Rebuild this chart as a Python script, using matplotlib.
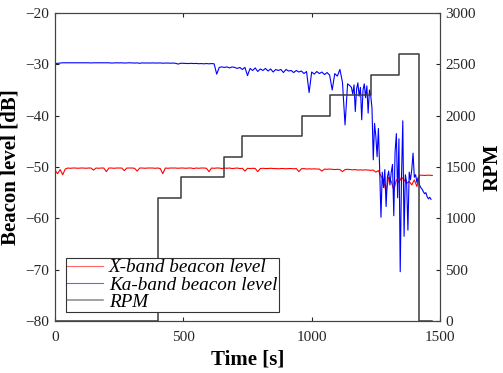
import numpy as np
import matplotlib
matplotlib.use('Agg')
import matplotlib.pyplot as plt

plt.rcParams['font.family'] = ['Liberation Serif', 'DejaVu Serif']

# ------------------------------------------------------------
# data
# ------------------------------------------------------------
# X-band beacon level, sampled every 10 s from 0 to 1470 s
red_time = np.arange(0, 1471, 10)
red_level = [
    -50.6, -51.3, -50.5, -51.5, -50.4, -50.2, -50.25, -50.2, -50.2, -50.25,
    -50.2, -50.2, -50.25, -50.2, -50.2, -50.6, -50.2, -50.25, -50.2, -50.2,
    -50.9, -50.2, -50.2, -50.25, -50.2, -50.2, -50.2, -50.7, -50.2, -50.2,
    -50.2, -50.25, -50.8, -50.2, -50.2, -50.25, -50.2, -50.2, -50.2, -50.25,
    -50.2, -50.3, -51.3, -50.2, -50.25, -50.2, -50.2, -50.2, -50.25, -50.2,
    -50.2, -50.25, -50.2, -50.2, -50.3, -50.2, -50.25, -50.2, -50.2, -50.25,
    -50.9, -50.2, -50.25, -50.2, -50.2, -50.3, -50.2, -50.25, -50.2, -50.3,
    -50.25, -50.2, -50.3, -50.25, -50.8, -50.25, -50.3, -50.25, -50.3, -50.9,
    -50.3, -50.25, -50.3, -50.3, -50.25, -50.3, -50.3, -50.35, -50.3, -50.3,
    -50.35, -50.3, -50.3, -50.35, -50.3, -50.9, -50.35, -50.3, -50.4, -50.35,
    -50.4, -50.35, -50.4, -50.4, -50.8, -50.4, -50.45, -50.4, -50.45, -50.5,
    -50.45, -50.5, -50.9, -50.5, -50.45, -50.5, -50.55, -50.5, -50.6, -50.55,
    -50.6, -50.55, -50.6, -50.65, -50.6, -51.0, -50.7, -51.8, -52.5, -55.0,
    -52.0, -52.8, -54.5, -52.5, -53.0, -52.0, -52.5, -53.2, -52.8, -53.5,
    -52.5, -53.8, -51.6, -51.6, -51.65, -51.6, -51.6, -51.65,
]

# Ka-band beacon level: 10 s steps up to 1150 s, then 5 s steps
blue_time = np.concatenate([np.arange(0, 1151, 10), np.arange(1155, 1466, 5)])
blue_level = [
    # 0 - 620 s
    -29.9, -29.8, -29.75, -29.7, -29.7, -29.72, -29.7, -29.7, -29.72, -29.7,
    -29.7, -29.72, -29.7, -29.7, -29.73, -29.7, -29.7, -29.72, -29.7, -29.72,
    -29.7, -29.7, -29.75, -29.72, -29.7, -29.72, -29.7, -29.75, -29.72, -29.7,
    -29.72, -29.75, -29.72, -29.8, -29.72, -29.75, -29.73, -29.75, -29.72, -29.75,
    -29.75, -29.73, -29.78, -29.75, -29.75, -29.78, -29.75, -29.8, -29.95, -29.78,
    -29.8, -29.82, -29.85, -29.8, -29.85, -29.82, -29.88, -29.85, -29.9, -29.85,
    -29.9, -29.85, -29.9,
    # 630 - 1150 s
    -31.9, -30.6, -30.5, -30.6, -30.5, -30.7, -30.5, -30.6, -30.8, -30.6,
    -31.0, -30.6, -32.2, -30.8, -31.2, -30.7, -31.4, -30.9, -31.2, -30.8,
    -31.3, -30.9, -31.5, -31.0, -31.2, -31.0, -31.6, -31.0, -31.3, -31.2,
    -31.6, -31.2, -31.5, -31.3, -31.8, -31.4, -35.5, -31.5, -31.9, -31.4,
    -31.8, -31.5, -32.0, -31.6, -32.1, -35.0, -31.8, -32.3, -31.0, -33.5,
    -41.8, -33.8, -34.2,
    # 1155 - 1465 s
    -34.5, -35.8, -34.0, -39.2, -34.8, -33.6, -36.2, -34.5, -40.8, -35.0,
    -33.8, -36.5, -34.2, -39.5, -35.0, -36.0, -38.5, -48.6, -41.5, -44.0,
    -48.0, -42.5, -50.5, -59.8, -51.0, -54.0, -50.5, -57.7, -52.0, -50.8,
    -53.5, -51.0, -49.5, -59.5, -47.0, -43.5, -56.0, -44.5, -70.4, -52.0,
    -41.0, -63.5, -51.5, -53.0, -62.3, -51.0, -52.5, -50.5, -47.3, -52.0,
    -51.5, -53.0, -52.0, -53.5, -54.0, -54.3, -54.8, -55.2, -55.0, -55.8,
    -56.2, -55.9, -56.3,
]

# RPM step changes (value holds until the next time)
rpm_time = [0, 403, 491, 659, 729, 962, 1070, 1230, 1339, 1420, 1470]
rpm_level = [0, 1200, 1400, 1600, 1800, 2000, 2200, 2400, 2600, 0, 0]

# ------------------------------------------------------------
# figure
# ------------------------------------------------------------
fig = plt.figure(figsize=(5.03, 3.73), dpi=100)
ax = fig.add_axes([55 / 503, 1 - 321 / 373, 385 / 503, 308 / 373])
ax2 = ax.twinx()

line_x, = ax.plot(red_time, red_level, color='#ff0000', lw=0.8,
                  label='X-band beacon level')
line_ka, = ax.plot(blue_time, blue_level, color='#0000ff', lw=0.8,
                   label='Ka-band beacon level')
line_rpm, = ax2.plot(rpm_time, rpm_level, color='#3a3a3a', lw=1.1,
                     drawstyle='steps-post', label='RPM')

ax.set_xlim(0, 1500)
ax.set_ylim(-80, -20)
ax2.set_ylim(0, 3000)
ax.set_xticks([0, 500, 1000, 1500])
ax.set_yticks(np.arange(-80, -19, 10))
ax2.set_yticks(np.arange(0, 3001, 500))

tick_col = '#262626'
ax.tick_params(axis='both', direction='in', length=3, width=0.8,
               labelsize=11, colors=tick_col, top=True, pad=4)
ax.tick_params(axis='x', pad=7)
ax2.tick_params(axis='y', direction='in', length=3, width=0.8,
                labelsize=11, colors=tick_col, pad=4)
for a in (ax, ax2):
    for s in a.spines.values():
        s.set_color('#444444')
        s.set_linewidth(0.8)

ax.set_xlabel('Time [s]', fontsize=15, fontweight='bold', labelpad=4)
ax.set_ylabel('Beacon level [dB]', fontsize=15, fontweight='bold', labelpad=4)
ax2.set_ylabel('RPM', fontsize=15, fontweight='bold', labelpad=5)

leg = ax2.legend(handles=[line_x, line_ka, line_rpm], loc='lower left',
                 bbox_to_anchor=(11 / 385, 9 / 308), borderaxespad=0,
                 prop={'family': 'Liberation Serif', 'style': 'italic', 'size': 13.8},
                 handlelength=1.9, handletextpad=0.3, labelspacing=0.0,
                 borderpad=0.05, fancybox=False, framealpha=1)
leg.get_frame().set_edgecolor('#333333')
leg.get_frame().set_linewidth(0.8)
for h in leg.legend_handles:
    h.set_alpha(0.6)

fig.savefig('out.png', dpi=100, facecolor='white')
